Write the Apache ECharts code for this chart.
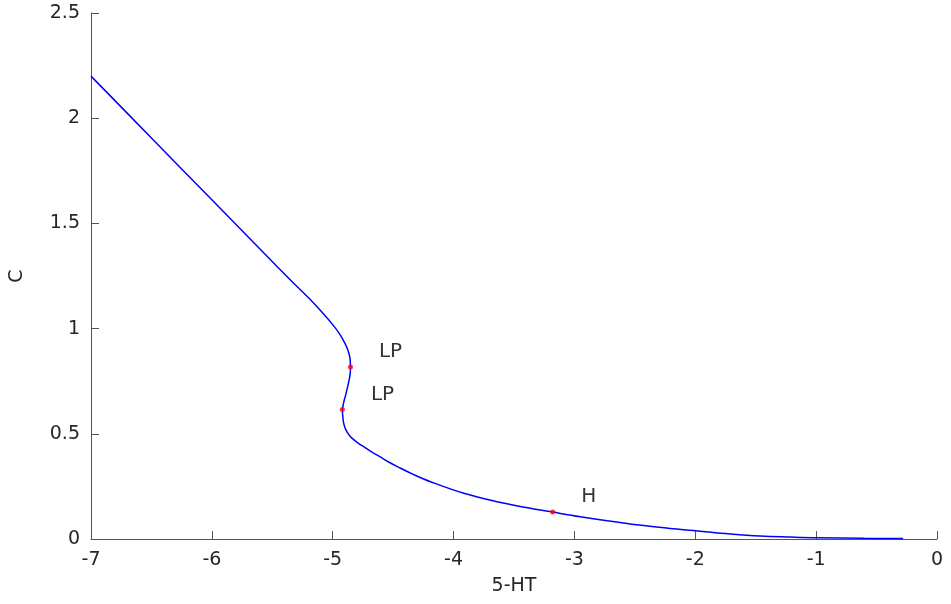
<!DOCTYPE html>
<html>
<head>
<meta charset="utf-8">
<script src="https://cdn.jsdelivr.net/npm/echarts@6/dist/echarts.min.js"></script>
<style>
  html, body { margin: 0; padding: 0; background: #fff; }
  #chart { width: 951px; height: 604px; }
</style>
</head>
<body>
<div id="chart"></div>
<script>
// continuation curve, 5-HT vs C
var serotonin = [-7, -6.5, -6.0, -5.6, -5.35, -5.198, -5.083, -5.0, -4.942, -4.901, -4.872, -4.857, -4.853,
  -4.856, -4.866, -4.879, -4.893, -4.907, -4.915, -4.92, -4.919, -4.917, -4.911, -4.899, -4.882, -4.858,
  -4.826, -4.787, -4.741, -4.678, -4.603, -4.537, -4.465, -4.33, -4.19, -3.915, -3.64, -3.4, -3.18,
  -2.95, -2.565, -2.3, -2.014, -1.75, -1.463, -1.2, -0.994, -0.6, -0.28];
var concentration = [2.2, 1.906, 1.612, 1.377, 1.231, 1.145, 1.074, 1.019, 0.974, 0.932, 0.894, 0.858, 0.818,
  0.784, 0.751, 0.718, 0.684, 0.654, 0.632, 0.616, 0.599, 0.585, 0.556, 0.53, 0.509, 0.49,
  0.472, 0.455, 0.438, 0.414, 0.389, 0.366, 0.344, 0.306, 0.272, 0.217, 0.177, 0.15, 0.128,
  0.106, 0.074, 0.056, 0.04, 0.026, 0.014, 0.009, 0.006, 0.003, 0.002];

// special points
var pointNames = ['LP', 'LP', 'H'];
var pointX = [-4.853, -4.92, -3.18];
var pointY = [0.818, 0.616, 0.128];

var xTicks = [-7, -6, -5, -4, -3, -2, -1, 0];
var yTicks = [0, 0.5, 1, 1.5, 2, 2.5];

var curve = serotonin.map(function (x, i) { return [x, concentration[i]]; });
var points = pointX.map(function (x, i) { return { name: pointNames[i], value: [x, pointY[i]] }; });

var font = 'DejaVu Sans, Liberation Sans, sans-serif';
var axisColor = '#555';

var chart = echarts.init(document.getElementById('chart'));
chart.setOption({
  animation: false,
  grid: { left: 90, right: 14, top: 13, bottom: 65 },
  xAxis: {
    type: 'value',
    min: xTicks[0], max: xTicks[xTicks.length - 1], interval: 1,
    name: '5-HT', nameLocation: 'middle', nameGap: 38,
    nameTextStyle: { fontFamily: font, fontSize: 19, color: '#262626' },
    axisLine: { onZero: false, lineStyle: { color: axisColor, width: 1 } },
    axisTick: { inside: true, length: 8, lineStyle: { color: axisColor } },
    axisLabel: { fontFamily: font, fontSize: 19, color: '#262626', margin: 12 },
    splitLine: { show: false }
  },
  yAxis: {
    type: 'value',
    min: yTicks[0], max: yTicks[yTicks.length - 1], interval: 0.5,
    name: 'C', nameLocation: 'middle', nameGap: 64, nameRotate: 90,
    nameTextStyle: { fontFamily: font, fontSize: 19, color: '#262626' },
    axisLine: { show: true, onZero: false, lineStyle: { color: axisColor, width: 1 } },
    axisTick: { show: true, inside: true, length: 8, lineStyle: { color: axisColor } },
    axisLabel: { fontFamily: font, fontSize: 19, color: '#262626', margin: 11 },
    splitLine: { show: false }
  },
  series: [
    {
      type: 'line',
      data: curve,
      smooth: 0.4,
      showSymbol: false,
      lineStyle: { color: '#0000ff', width: 1.5 }
    },
    {
      type: 'scatter',
      data: points,
      symbolSize: 5,
      itemStyle: { color: '#ff0000' },
      label: {
        show: true,
        formatter: '{b}',
        position: 'right',
        distance: 18,
        offset: [8, -15],
        fontFamily: font, fontSize: 20, color: '#000'
      },
      z: 5
    }
  ]
});
</script>
</body>
</html>
